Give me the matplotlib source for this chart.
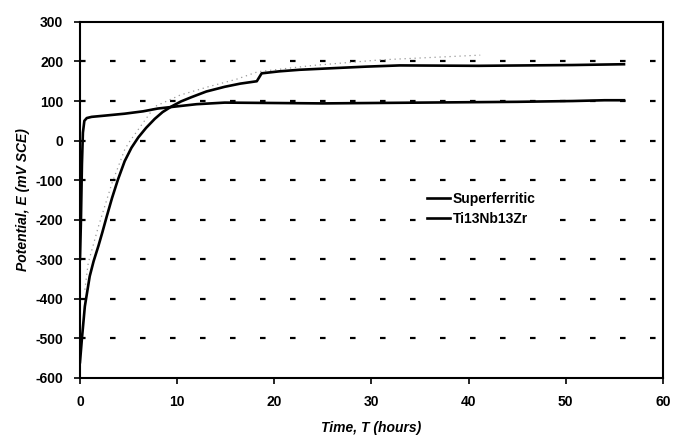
import matplotlib
matplotlib.use("Agg")
import matplotlib.pyplot as plt

plt.rcParams['font.family'] = ['Liberation Sans', 'DejaVu Sans']
plt.rcParams['axes.unicode_minus'] = False

# Superferritic
t_sf = [0.0, 0.1, 0.2, 0.3, 0.45, 0.7, 1.2, 2.5, 4.6, 6.5, 8.0, 9.8, 12.0, 14.9, 20, 25, 30, 35, 40, 45, 50.7, 54, 56]
e_sf = [-300, -200, -60, 20, 50, 57, 60, 63, 68, 74, 81, 86, 92, 96, 95, 94, 95, 96, 97, 98, 100, 102, 102]

# Ti13Nb13Zr
t_ti = [0.0, 0.2, 0.5, 1.0, 1.4, 1.9, 2.3, 2.75, 3.3, 3.9, 4.6, 5.3, 6.0, 6.8, 7.7, 8.5, 9.4, 10.4, 11.5, 13, 14.9, 16.5, 18.2,
        18.7, 20.5, 22.6, 26, 29.5, 32.9, 41, 50.7, 56]
e_ti = [-560, -500, -419, -343, -305, -266, -232, -192, -145, -99, -52, -18, 8, 32, 55, 72, 86, 99, 110, 124, 136, 144, 150,
        170, 175, 179, 183, 187, 190, 189, 191, 193]

# faint grey trace visible in the scan
t_gr = [0.5, 0.85, 1.9, 3.3, 4.6, 5.0, 6.7, 7.7, 10.3, 13.2, 16.1, 18.3, 24, 30.9, 41.2]
e_gr = [-377, -309, -217, -107, -23, -6, 52, 86, 115, 136, 155, 174, 190, 204, 216]

fig = plt.figure(figsize=(6.75, 4.38), dpi=100)
ax = fig.add_axes([0.1185, 0.137, 0.8635, 0.813])

for y in range(-500, 300, 100):
    ax.axhline(y, color='black', lw=1.6, ls=(0, (2.5, 11)), zorder=1)

ax.plot(t_gr, e_gr, color='#999999', lw=0.9, ls=(0, (1, 3)), zorder=2)
ax.plot(t_sf, e_sf, color='black', lw=1.9, label='Superferritic', zorder=3)
ax.plot(t_ti, e_ti, color='black', lw=1.9, label='Ti13Nb13Zr', zorder=3)

ax.set_xlim(0, 60)
ax.set_ylim(-600, 300)
ax.set_xticks(range(0, 61, 10))
ax.set_yticks(range(-600, 301, 100))
ax.tick_params(direction='out', length=4, width=1.2, labelsize=10)
ax.tick_params(axis='x', pad=8)
ax.tick_params(axis='y', pad=8)
for lab in ax.get_xticklabels() + ax.get_yticklabels():
    lab.set_fontweight('bold')
for s in ax.spines.values():
    s.set_linewidth(1.5)

ax.set_xlabel('Time, T (hours)', fontsize=10, fontweight='bold', style='italic', labelpad=9)
ax.set_ylabel('Potential, E (mV SCE)', fontsize=10, fontweight='bold', style='italic', labelpad=4)

leg = ax.legend(loc='center left', bbox_to_anchor=(0.577, 0.475), frameon=True, fancybox=False,
                facecolor='white', edgecolor='none', framealpha=1.0, borderpad=0.3,
                fontsize=10, handlelength=1.6, handletextpad=0.2, labelspacing=0.45)
leg.set_zorder(4)
for txt in leg.get_texts():
    txt.set_fontweight('bold')

fig.savefig('out.png', dpi=100)
